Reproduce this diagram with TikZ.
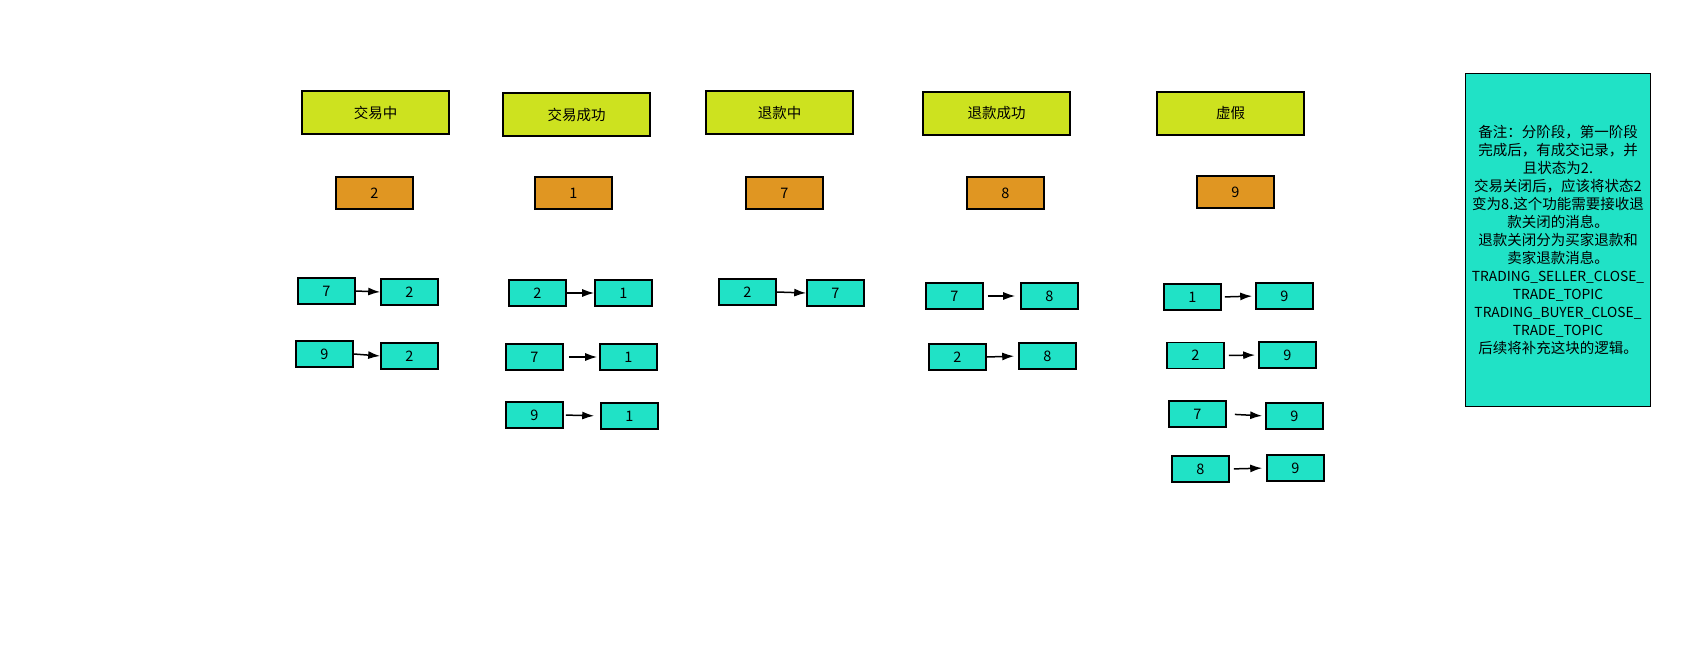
\documentclass[tikz,border=0pt]{standalone}
\usepackage{fontspec}
\setmainfont{Noto Sans CJK SC}
\usetikzlibrary{arrows.meta}
\definecolor{titlefill}{RGB}{205,226,31}
\definecolor{codefill}{RGB}{224,150,34}
\definecolor{statefill}{RGB}{32,226,198}
\newcommand{\latinline}[1]{{\fontsize{13.8pt}{18pt}\selectfont #1}}
\tikzset{
  box/.style={draw=black, line width=1.6pt, inner sep=1pt, text=black,
    font=\fontsize{14.5pt}{18pt}\selectfont},
  titlebox/.style={box, fill=titlefill, minimum width=147pt, minimum height=43pt},
  codebox/.style={box, fill=codefill, minimum width=77pt, minimum height=32pt},
  statebox/.style={box, fill=statefill, minimum width=57pt, minimum height=26pt},
  notebox/.style={box, fill=statefill, minimum width=185pt, minimum height=333pt, align=center},
  conn/.style={line width=1.5pt, -{Latex[length=12pt,width=8pt]}},
}
\begin{document}
\begin{tikzpicture}[x=1pt,y=-1pt]
\useasboundingbox (0,0) rectangle (1694,648);

% state headings
\node[titlebox] (t1) at (375.5,112.5) {交易中};
\node[titlebox] (t2) at (576.5,114.5) {交易成功};
\node[titlebox] (t3) at (779.5,112.5) {退款中};
\node[titlebox] (t4) at (996.5,113.5) {退款成功};
\node[titlebox] (t5) at (1230.5,113.5) {虚假};

% state codes
\node[codebox] (s1) at (374.5,193) {2};
\node[codebox] (s2) at (573.5,193) {1};
\node[codebox] (s3) at (784.5,193) {7};
\node[codebox] (s4) at (1005.5,193) {8};
\node[codebox] (s5) at (1235.5,192) {9};

% transitions into 2
\node[statebox] (a1) at (326.5,291) {7};
\node[statebox] (b1) at (409.5,292) {2};
\node[statebox] (a2) at (324.5,354) {9};
\node[statebox] (b2) at (409.5,356) {2};

% transitions into 1
\node[statebox] (c1) at (537.5,293) {2};
\node[statebox] (d1) at (623.5,293) {1};
\node[statebox] (c2) at (534.5,357) {7};
\node[statebox] (d2) at (628.5,357) {1};
\node[statebox] (c3) at (534.5,415) {9};
\node[statebox] (d3) at (629.5,416) {1};

% transitions into 7
\node[statebox] (e1) at (747.5,292) {2};
\node[statebox] (f1) at (835.5,293) {7};

% transitions into 8
\node[statebox] (g1) at (954.5,296) {7};
\node[statebox] (h1) at (1049.5,296) {8};
\node[statebox] (g2) at (957.5,357) {2};
\node[statebox] (h2) at (1047.5,356) {8};

% transitions into 9
\node[statebox] (i1) at (1192.5,297) {1};
\node[statebox] (j1) at (1284.5,296) {9};
\node[statebox] (i2) at (1195.5,355.5) {2};
\node[statebox] (j2) at (1287.5,355) {9};
\node[statebox] (i3) at (1197.5,414) {7};
\node[statebox] (j3) at (1294.5,416) {9};
\node[statebox] (i4) at (1200.5,469) {8};
\node[statebox] (j4) at (1295.5,468) {9};

% arrows
\draw[conn] (a1.east) -- (b1.west);
\draw[conn] (a2.east) -- (b2.west);
\draw[conn] (c1.east) -- (d1.west);
\draw[conn, shorten <=5pt, shorten >=2pt] (c2.east) -- (d2.west);
\draw[conn, shorten <=2pt, shorten >=6pt] (c3.east) -- (d3.west);
\draw[conn] (e1.east) -- (f1.west);
\draw[conn, shorten <=4pt, shorten >=5pt] (g1.east) -- (h1.west);
\draw[conn, shorten >=4pt] (g2.east) -- (h2.west);
\draw[conn, shorten <=3pt, shorten >=3pt] (i1.east) -- (j1.west);
\draw[conn, shorten <=4pt, shorten >=3pt] (i2.east) -- (j2.west);
\draw[conn, shorten <=8pt, shorten >=3pt] (i3.east) -- (j3.west);
\draw[conn, shorten <=4pt, shorten >=4pt] (i4.east) -- (j4.west);

% remarks
\node[notebox] (note) at (1558,240) {备注：分阶段，第一阶段\\完成后，有成交记录，并\\且状态为2.\\交易关闭后，应该将状态2\\变为8.这个功能需要接收退\\款关闭的消息。\\退款关闭分为买家退款和\\卖家退款消息。\\\latinline{TRADING\_SELLER\_CLOSE\_}\\\latinline{TRADE\_TOPIC}\\\latinline{TRADING\_BUYER\_CLOSE\_}\\\latinline{TRADE\_TOPIC}\\后续将补充这块的逻辑。};
\end{tikzpicture}
\end{document}
